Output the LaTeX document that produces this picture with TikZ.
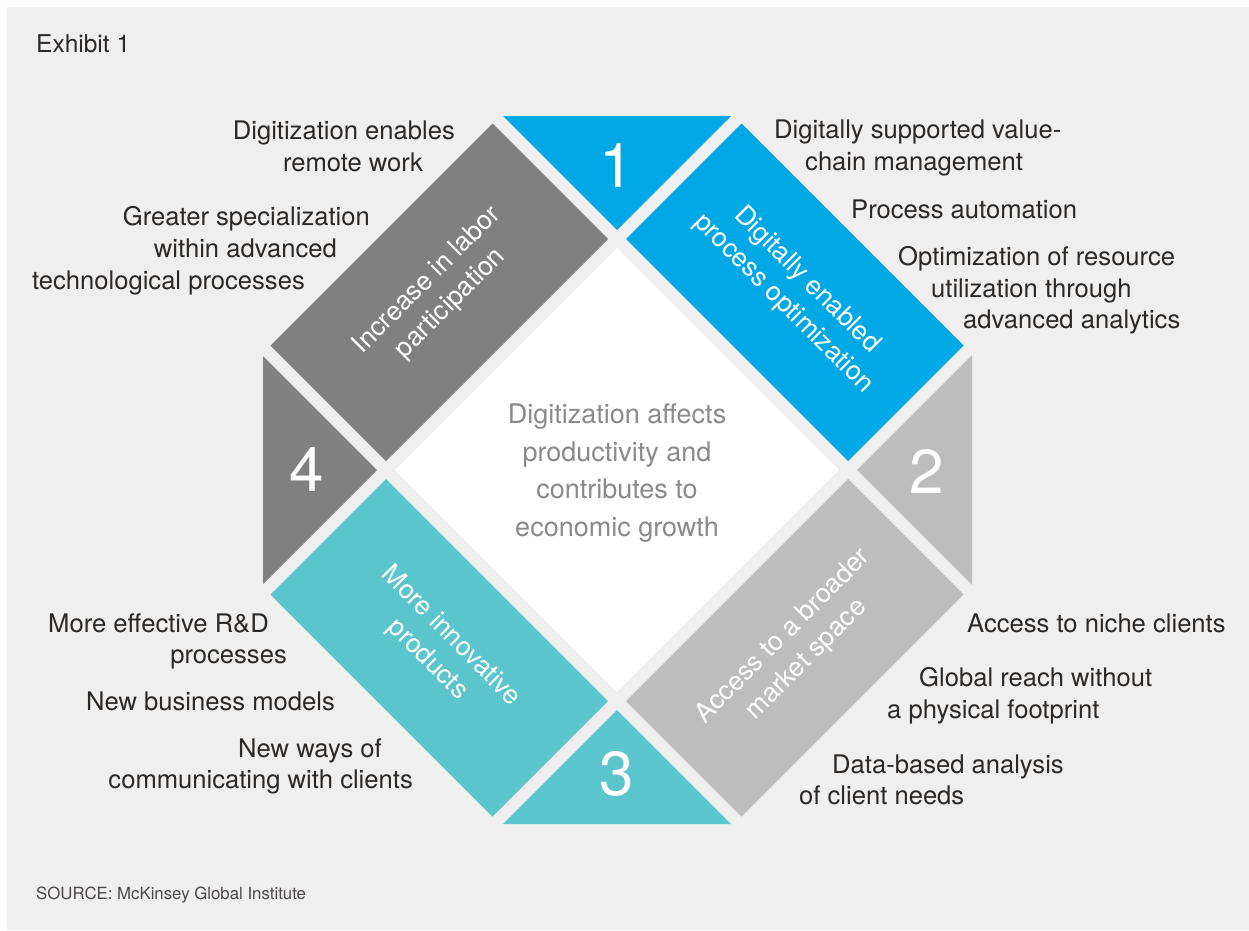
\documentclass[tikz,border=0pt]{standalone}
\usepackage{fontspec}
\setmainfont{TeX Gyre Heros}
\definecolor{bggray}{HTML}{EFEFEF}
\definecolor{mblue}{HTML}{00A9E6}
\definecolor{mteal}{HTML}{5BC5CE}
\definecolor{mdark}{HTML}{808080}
\definecolor{mlight}{HTML}{BDBDBD}
\definecolor{mtext}{HTML}{2B2826}
\definecolor{mcenter}{HTML}{8A8A8A}
\begin{document}
\begin{tikzpicture}[x=1pt,y=-1pt,
  side/.style={inner sep=0pt, text=mtext, font=\fontsize{25.6}{32}\selectfont},
  lside/.style={side, anchor=base east},
  rside/.style={side, anchor=base west},
  bandtext/.style={inner sep=0pt, text=white, align=center, font=\fontsize{26.5}{33}\selectfont},
  numtext/.style={inner sep=0pt, text=white, font=\fontsize{62}{62}\selectfont},
  centertext/.style={inner sep=0pt, text=mcenter, align=center, font=\fontsize{27}{37.5}\selectfont}
]
\useasboundingbox (0,0) rectangle (1249,930);
\fill[white] (0,0) rectangle (1249,930);
\fill[bggray] (7,7) rectangle (1249,930);
\begin{scope}[shift={(617,470)}]
  \fill[white] (0,-222) -- (222,0) -- (0,222) -- (-222,0) -- cycle;
  \fill[mblue] (9,-231) -- (124.5,-346.5) -- (346.5,-124.5) -- (231,-9) -- cycle;
  \fill[mblue] (-114,-354) -- (114,-354) -- (0,-240) -- cycle;
  \fill[mlight] (240,0) -- (355,-115) -- (355,115) -- cycle;
  \fill[mlight] (9,231) -- (124.5,346.5) -- (346.5,124.5) -- (231,9) -- cycle;
  \fill[mteal] (0,240) -- (114,354) -- (-114,354) -- cycle;
  \fill[mteal] (-231,9) -- (-346.5,124.5) -- (-124.5,346.5) -- (-9,231) -- cycle;
  \fill[mdark] (-240,0) -- (-354,-114) -- (-354,114) -- cycle;
  \fill[mdark] (-231,-9) -- (-346.5,-124.5) -- (-124.5,-346.5) -- (-9,-231) -- cycle;
\end{scope}

% band texts
\node[bandtext, rotate=-45] (bandA) at (795,292) {Digitally enabled\\process optimization};
\node[bandtext, rotate=45] (bandB) at (439,292) {Increase in labor\\participation};
\node[bandtext, rotate=-45] (bandC) at (439,648) {More innovative\\products};
\node[bandtext, rotate=45] (bandD) at (795,648) {Access to a broader\\market space};

% numbers
\node[numtext] (n1) at (617,166) {1};
\node[numtext] (n2) at (927,472) {2};
\node[numtext] (n3) at (617,774) {3};
\node[numtext] (n4) at (307,470) {4};

% center
\node[centertext] (center) at (617,473) {Digitization affects\\productivity and\\contributes to\\economic growth};

% top-left
\node[lside] (tl1) at (455,139) {Digitization enables};
\node[lside] (tl2) at (423,171) {remote work};
\node[lside] (tl3) at (370,225) {Greater specialization};
\node[lside] (tl4) at (337,257) {within advanced};
\node[lside] (tl5) at (305,289) {technological processes};

% top-right
\node[rside] (tr1) at (774,138) {Digitally supported value-};
\node[rside] (tr2) at (805,170) {chain management};
\node[rside] (tr3) at (851,218) {Process automation};
\node[rside] (tr4) at (898,265) {Optimization of resource};
\node[rside] (tr5) at (931,297) {utilization through};
\node[rside] (tr6) at (963,328) {advanced analytics};

% bottom-left
\node[lside] (bl1) at (269,632) {More effective R\&D};
\node[lside] (bl2) at (287,663) {processes};
\node[lside] (bl3) at (335,710) {New business models};
\node[lside] (bl4) at (382,757) {New ways of};
\node[lside] (bl5) at (413,788) {communicating with clients};

% bottom-right
\node[rside] (br1) at (967,632) {Access to niche clients};
\node[rside] (br2) at (919,686) {Global reach without};
\node[rside] (br3) at (887,718) {a physical footprint};
\node[rside] (br4) at (832,773) {Data-based analysis};
\node[rside] (br5) at (799,804) {of client needs};

% title and source
\node[side, anchor=base west, font=\fontsize{24.5}{30}\selectfont] (title) at (36,52) {Exhibit 1};
\node[side, anchor=base west, font=\fontsize{16.8}{20}\selectfont, text=mtext!85] (source) at (36,899) {SOURCE: McKinsey Global Institute};
\end{tikzpicture}
\end{document}
